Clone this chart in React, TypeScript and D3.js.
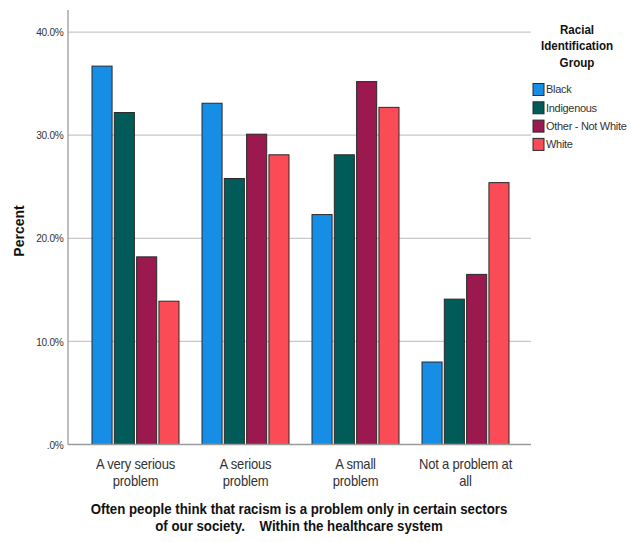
import React from "react";
import * as d3 from "d3";

const categories = [
  ["A very serious", "problem"],
  ["A serious", "problem"],
  ["A small", "problem"],
  ["Not a problem at", "all"],
];
const categoryKeys = categories.map((c) => c.join(" "));
const seriesNames = ["Black", "Indigenous", "Other - Not White", "White"];
const seriesColors = ["#168ee6", "#005b59", "#9c1950", "#fa4b56"];
const black = [36.7, 33.1, 22.3, 8.0];
const indigenous = [32.2, 25.8, 28.1, 14.1];
const otherNotWhite = [18.2, 30.1, 35.2, 16.5];
const white = [13.9, 28.1, 32.7, 25.4];
const seriesValues = [black, indigenous, otherNotWhite, white];
const yTicks = [0, 10, 20, 30, 40];
const yTickLabels = [".0%", "10.0%", "20.0%", "30.0%", "40.0%"];
const legendTitle = ["Racial", "Identification", "Group"];
const xTitle = [
  "Often people think that racism is a problem only in certain sectors",
  "of our society.    Within the healthcare system",
];

export default function App() {
  const W = 631, H = 542;
  const left = 68, right = 531, top = 10, bottom = 444.5;
  const y = d3.scaleLinear().domain([0, 40]).range([bottom, bottom - 4 * 103.1]);
  const x0 = d3.scaleBand().domain(categoryKeys).range([80, 520]).padding(0);
  const x1 = d3.scaleBand().domain(seriesNames).range([12, 99]).paddingInner(0.1);
  const font = "'Liberation Sans', Arial, sans-serif";

  return (
    <svg width={W} height={H} style={{ position: "absolute", left: 0, top: 0, background: "#fff" }} fontFamily={font}>
      {/* gridlines */}
      {yTicks.filter((t) => t > 0).map((t) => (
        <line key={t} x1={left} x2={right} y1={y(t)} y2={y(t)} stroke="#c8c8c8" strokeWidth={1.3} />
      ))}
      {/* bars */}
      {categoryKeys.map((c, ci) => (
        <g key={c} transform={`translate(${x0(c)},0)`}>
          {seriesNames.map((s, si) => (
            <rect
              key={s}
              x={x1(s)}
              y={y(seriesValues[si][ci])}
              width={x1.bandwidth()}
              height={y(0) - y(seriesValues[si][ci])}
              fill={seriesColors[si]}
              stroke="#2a2a2a"
              strokeWidth={1}
            />
          ))}
        </g>
      ))}
      {/* axes */}
      <line x1={left} x2={left} y1={top} y2={bottom} stroke="#9a9a9a" strokeWidth={1.3} />
      <line x1={left} x2={right} y1={bottom} y2={bottom} stroke="#9a9a9a" strokeWidth={1.3} />
      {yTicks.map((t, i) => (
        <text
          key={t}
          transform={`translate(63.5,${y(t)}) scale(0.88,1)`}
          dy="0.36em"
          textAnchor="end"
          fontSize={11.5}
          fill="#333"
          letterSpacing={-0.3}
        >
          {yTickLabels[i]}
        </text>
      ))}
      {/* category labels */}
      {categoryKeys.map((c, ci) => (
        <g key={c} transform={`translate(${(x0(c) as number) + 55.5},469) scale(0.93,1)`}>
          <text textAnchor="middle" fontSize={14} fill="#333" letterSpacing={-0.2}>
            {categories[ci].map((line, li) => (
              <tspan key={li} x={0} y={li * 17.5}>{line}</tspan>
            ))}
          </text>
        </g>
      ))}
      {/* y title */}
      <text transform={`translate(23.5,231) rotate(-90)`} textAnchor="middle" fontSize={14} fontWeight="bold" fill="#111">
        Percent
      </text>
      {/* x title */}
      <g transform={`translate(299,514) scale(0.915,1)`}>
        <text textAnchor="middle" fontSize={14.5} fontWeight="bold" fill="#111" style={{ whiteSpace: "pre" }}>
          {xTitle.map((line, i) => (
            <tspan key={i} x={0} y={i * 17.5}>{line}</tspan>
          ))}
        </text>
      </g>
      {/* legend */}
      <g transform={`translate(577,33.5) scale(0.86,1)`}>
        <text textAnchor="middle" fontSize={13.5} fontWeight="bold" fill="#111">
          {legendTitle.map((line, i) => (
            <tspan key={i} x={0} y={i * 17}>{line}</tspan>
          ))}
        </text>
      </g>
      {seriesNames.map((s, i) => (
        <g key={s} transform={`translate(533,${83.5 + i * 18.3})`}>
          <rect x={0} y={0} width={11} height={12} fill={seriesColors[i]} stroke="#2a2a2a" strokeWidth={1} />
          <text x={13} y={6} dy="0.35em" fontSize={11} fill="#333" letterSpacing={-0.3}>{s}</text>
        </g>
      ))}
    </svg>
  );
}
